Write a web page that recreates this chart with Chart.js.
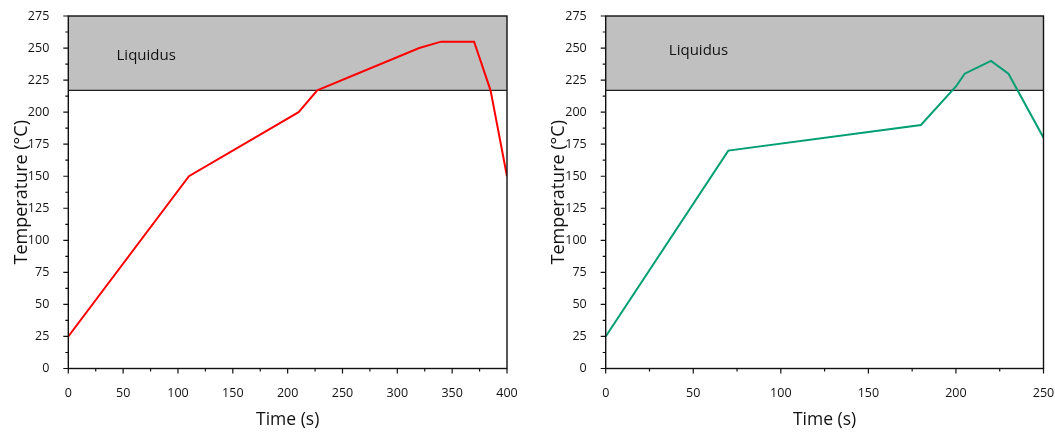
<!DOCTYPE html>
<html>
<head>
<meta charset="utf-8">
<script src="https://cdn.jsdelivr.net/npm/chart.js@4/dist/chart.umd.min.js"></script>
<style>
  html, body { margin: 0; padding: 0; background: #fff; }
  #wrap { position: relative; width: 1055px; height: 432px; }
  canvas { position: absolute; top: 0; }
  #c1 { left: 0; }
  #c2 { left: 537px; }
</style>
</head>
<body>
<div id="wrap">
  <canvas id="c1" width="527" height="432"></canvas>
  <canvas id="c2" width="518" height="432"></canvas>
</div>
<script>
// Reflow temperature profiles (time in s, temperature in °C)
const LIQUIDUS = 217;
const TEMP_MAX = 275;

const profileATime = [0, 110, 210, 227, 320, 340, 370, 385, 400];
const profileATemp = [25, 150, 200, 217, 250, 255, 255, 217, 150];

const profileBTime = [0, 70, 180, 200, 205, 220, 230, 250];
const profileBTemp = [25, 170, 190, 220, 230, 240, 230, 180];

// Labelled ticks
const tempTickLabels = [0, 25, 50, 75, 100, 125, 150, 175, 200, 225, 250, 275];
const timeTickLabelsA = [0, 50, 100, 150, 200, 250, 300, 350, 400];
const timeTickLabelsB = [0, 50, 100, 150, 200, 250];

const FONT = '"Open Sans", "DejaVu Sans", sans-serif';

// add an unlabelled minor tick halfway between labelled ones
function withMinor(majors) {
  const out = [];
  majors.forEach((v, i) => {
    out.push(v);
    if (i < majors.length - 1) out.push((v + majors[i + 1]) / 2);
  });
  return out;
}

// Liquidus band, frame and tick marks
const reflowDecor = {
  id: 'reflowDecor',
  beforeDatasetsDraw(chart, args, opts) {
    const { ctx, chartArea: a, scales: { x, y } } = chart;
    const yl = y.getPixelForValue(opts.liquidus);
    ctx.save();
    ctx.fillStyle = '#c0c0c0';
    ctx.fillRect(a.left, a.top, a.right - a.left, yl - a.top);
    ctx.strokeStyle = '#222';
    ctx.lineWidth = 1.3;
    ctx.beginPath();
    ctx.moveTo(a.left, yl);
    ctx.lineTo(a.right, yl);
    ctx.stroke();
    ctx.fillStyle = '#111';
    ctx.font = '15px ' + FONT;
    ctx.textAlign = 'center';
    ctx.textBaseline = 'middle';
    ctx.fillText(opts.label, x.getPixelForValue(opts.labelAt[0]), y.getPixelForValue(opts.labelAt[1]));
    ctx.restore();
  },
  afterDraw(chart) {
    const { ctx, chartArea: a, scales: { x, y } } = chart;
    ctx.save();
    ctx.strokeStyle = '#111';
    ctx.lineWidth = 1.4;
    ctx.strokeRect(a.left, a.top, a.right - a.left, a.bottom - a.top);
    ctx.lineWidth = 1.2;
    ctx.beginPath();
    x.ticks.forEach(t => {
      const px = x.getPixelForValue(t.value);
      const len = t.label !== '' ? 5 : 3;
      ctx.moveTo(px, a.bottom);
      ctx.lineTo(px, a.bottom + len);
    });
    y.ticks.forEach(t => {
      const py = y.getPixelForValue(t.value);
      const len = t.label !== '' ? 5 : 3;
      ctx.moveTo(a.left, py);
      ctx.lineTo(a.left - len, py);
    });
    ctx.stroke();
    ctx.restore();
  }
};

function makeChart(canvasId, times, temps, color, xMax, xLabels, padRight, yWidth, labelAt) {
  const tempTicks = withMinor(tempTickLabels);
  const timeTicks = withMinor(xLabels);
  return new Chart(document.getElementById(canvasId), {
    type: 'line',
    data: {
      datasets: [{
        data: times.map((t, i) => ({ x: t, y: temps[i] })),
        borderColor: color,
        borderWidth: 2,
        pointRadius: 0,
        tension: 0,
        fill: false
      }]
    },
    options: {
      responsive: false,
      animation: false,
      events: [],
      layout: { padding: { top: 16, right: padRight, left: 0, bottom: 0 } },
      plugins: {
        legend: { display: false },
        tooltip: { enabled: false },
        reflowDecor: { liquidus: LIQUIDUS, label: 'Liquidus', labelAt: labelAt }
      },
      scales: {
        x: {
          type: 'linear',
          min: 0,
          max: xMax,
          afterBuildTicks: s => { s.ticks = timeTicks.map(v => ({ value: v })); },
          afterFit: s => { s.height = 63.5; s.paddingLeft = 0; s.paddingRight = 0; },
          grid: { display: false },
          border: { display: false },
          ticks: {
            autoSkip: false,
            maxRotation: 0,
            padding: 9,
            color: '#111',
            font: { family: FONT, size: 12.5 },
            callback: v => xLabels.includes(v) ? String(v) : ''
          },
          title: {
            display: true,
            text: 'Time (s)',
            color: '#111',
            font: { family: FONT, size: 17.5 },
            padding: { top: 0, bottom: 1.5 }
          }
        },
        y: {
          type: 'linear',
          min: 0,
          max: TEMP_MAX,
          afterBuildTicks: s => { s.ticks = tempTicks.map(v => ({ value: v })); },
          afterFit: s => { s.width = yWidth; s.paddingTop = 0; s.paddingBottom = 0; },
          grid: { display: false },
          border: { display: false },
          ticks: {
            autoSkip: false,
            padding: 11,
            color: '#111',
            font: { family: FONT, size: 12.5 },
            callback: v => tempTickLabels.includes(v) ? String(v) : ''
          },
          title: {
            display: true,
            text: 'Temperature (°C)',
            color: '#111',
            font: { family: FONT, size: 18 },
            padding: { top: 11, bottom: 0 }
          }
        }
      }
    },
    plugins: [reflowDecor]
  });
}

makeChart('c1', profileATime, profileATemp, '#ff0000', 400, timeTickLabelsA, 20, 68.3, [71, 244]);
makeChart('c2', profileBTime, profileBTemp, '#009e73', 250, timeTickLabelsB, 11.5, 68.7, [53, 248]);
</script>
</body>
</html>
